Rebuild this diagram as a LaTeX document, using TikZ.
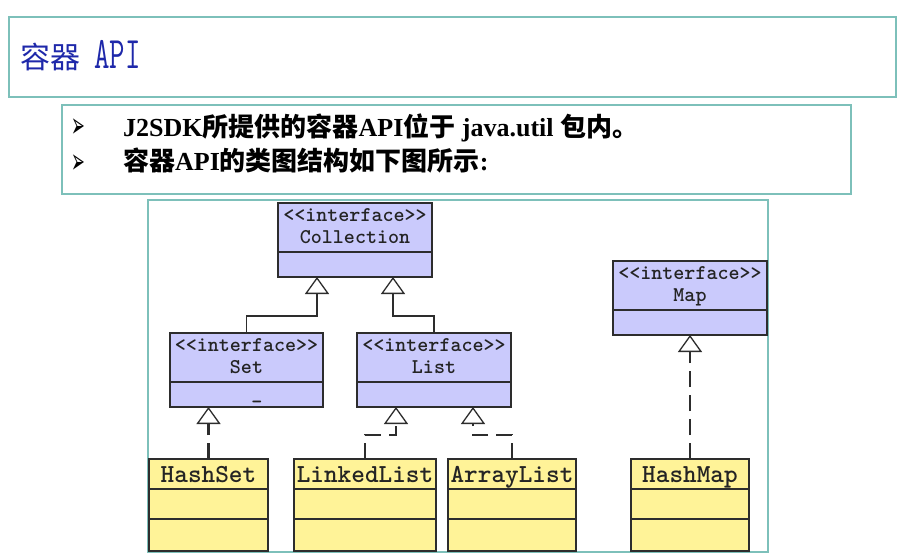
\documentclass[tikz,border=0pt]{standalone}
\usepackage{fontspec}
\usepackage{graphicx}
\setmainfont{Liberation Serif}
\newfontfamily\cjk{Noto Sans CJK SC}
\newfontfamily\dejavu{DejaVu Sans}
\usetikzlibrary{arrows.meta,calc}
\definecolor{frameteal}{RGB}{125,192,186}
\definecolor{titleblue}{RGB}{30,40,170}
\definecolor{ifill}{RGB}{202,202,252}
\definecolor{cfill}{RGB}{255,243,152}
\definecolor{edge}{RGB}{45,45,45}
\tikzset{
  x=1pt, y=-1pt,
  frame/.style={draw=frameteal, line width=1.8pt},
  ibox/.style={draw=edge, fill=ifill, line width=1.4pt, inner sep=0pt, outer sep=0pt},
  cbox/.style={draw=edge, fill=cfill, line width=1.4pt, inner sep=0pt, outer sep=0pt},
  divline/.style={draw=edge, line width=1.4pt},
  itxt/.style={anchor=base, inner sep=0pt, text=edge!80!black, font=\ttfamily\bfseries\fontsize{21}{21}\selectfont},
  ctxt/.style={anchor=base, inner sep=0pt, text=edge!80!black, font=\ttfamily\bfseries\fontsize{26}{26}\selectfont},
  gentip/.style={-{Triangle[open, length=17pt, width=24pt, line width=1.3pt, fill=white]}},
  genline/.style={gentip, draw=edge, line width=1.5pt},
  realline/.style={gentip, draw=edge, line width=2.4pt, dash pattern=on 16pt off 8pt},
  bullet/.style={anchor=base west, inner sep=0pt, font=\dejavu\fontsize{22}{22}\selectfont},
  btxt/.style={anchor=base west, inner sep=0pt, font=\bfseries\fontsize{26}{26}\selectfont}
}
\newcommand\ifacebox[5]{%
  \node[ibox, minimum width=#4pt, minimum height=74pt] (#1) at (#2,#3) {};
  \draw[divline] ([yshift=-49pt]#1.north west) -- ([yshift=-49pt]#1.north east);
  \node[itxt] (#1s) at ([yshift=-18pt]#1.north) {<<interface>>};
  \node[itxt] (#1n) at ([yshift=-40pt]#1.north) {#5};
}
\newcommand\classbox[5]{%
  \node[cbox, minimum width=#4pt, minimum height=92pt] (#1) at (#2,#3) {};
  \draw[divline] ([yshift=-30pt]#1.north west) -- ([yshift=-30pt]#1.north east);
  \draw[divline] ([yshift=-60pt]#1.north west) -- ([yshift=-60pt]#1.north east);
  \node[ctxt] (#1n) at ([yshift=-23pt]#1.north) {#5};
}
\begin{document}
\begin{tikzpicture}
\useasboundingbox[fill=white] (0,0) rectangle (910,559);
% title
\draw[frame] (9,17) rectangle (896,97);
\node[anchor=base west, inner sep=0pt, text=titleblue, font=\cjk\fontsize{30}{30}\selectfont] (title) at (20,69) {容器\hspace{14pt}\scalebox{1}[1.5]{\ttfamily API}};
% text box
\draw[frame] (62,105) rectangle (851,194);
\node[bullet] (b1) at (71,138) {\scalebox{0.75}[1.6]{➢}};
\node[bullet] (b2) at (71,173) {\scalebox{0.75}[1.6]{➢}};
\node[btxt] (l1) at (123,136) {J2SDK{\cjk 所提供的容器}API{\cjk 位于} java.util {\cjk 包内。}};
\node[btxt] (l2) at (123,171) {{\cjk 容器}API{\cjk 的类图结构如下图所示}:};
% diagram frame
\draw[frame] (148,200) rectangle (768,552);
% interfaces
\ifacebox{coll}{355}{240}{154}{Collection}
\ifacebox{set}{246.5}{370}{153}{Set}
\ifacebox{list}{434}{370}{154}{List}
\ifacebox{map}{690}{298}{154}{Map}
\node[itxt] (setmark) at (257,399) {\_};
% classes
\classbox{hashset}{208.5}{505}{119}{HashSet}
\classbox{linked}{365}{505}{142}{LinkedList}
\classbox{array}{512}{505}{128}{ArrayList}
\classbox{hashmap}{690}{505}{118}{HashMap}
% connectors
\draw[genline] (set.north) -- ++(0,-17) -| ($(coll.south)+(-38,0)$);
\draw[genline] (list.north) -- ++(0,-17) -| ($(coll.south)+(38,0)$);
\draw[realline] (hashset.north) -- (hashset.north |- set.south);
\draw[realline] (linked.north) -- ++(0,-24) -| ($(list.south)+(-38,0)$);
\draw[realline] (array.north) -- ++(0,-24) -| ($(list.south)+(39,0)$);
\draw[realline] (hashmap.north) -- (map.south);
\end{tikzpicture}
\end{document}
